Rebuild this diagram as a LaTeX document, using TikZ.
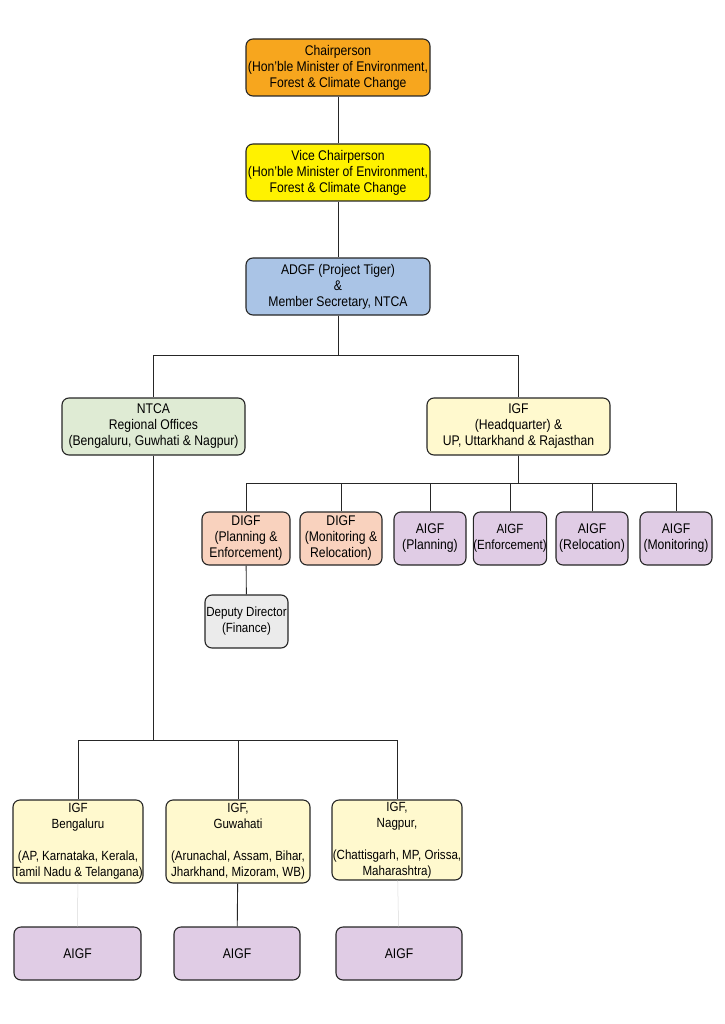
\documentclass[tikz,border=0pt]{standalone}
\usepackage{fontspec}
\setmainfont{Liberation Sans}[FakeStretch=0.87]
\usepackage{xcolor}
\usepackage{tikz}
\usetikzlibrary{positioning,calc}

\definecolor{chairorange}{RGB}{247,166,30}
\definecolor{viceyellow}{RGB}{255,242,0}
\definecolor{adgfblue}{RGB}{170,196,230}
\definecolor{rogreen}{RGB}{223,235,212}
\definecolor{igfyellow}{RGB}{255,249,206}
\definecolor{digfsalmon}{RGB}{249,210,190}
\definecolor{aigflilac}{RGB}{224,204,229}
\definecolor{ddgray}{RGB}{235,235,235}

\begin{document}
\begin{tikzpicture}[x=1pt, y=-1pt,
    box/.style={rectangle, rounded corners=7pt, draw=black!85, line width=1.1pt, align=center, inner sep=0pt, font=\fontsize{14}{16}\selectfont},
    topbox/.style={box, minimum width=184pt, minimum height=57pt},
    smallbox/.style={box, minimum width=72pt, minimum height=53pt},
    regbox/.style={box, fill=igfyellow, minimum height=83pt, font=\fontsize{13.3}{16}\selectfont},
    aigf/.style={box, fill=aigflilac},
    link/.style={line width=0.9pt, black!85},
    faint/.style={line width=0.5pt, black!15}
]
\useasboundingbox (0,0) rectangle (724,1024);

% --- TOP OF THE CHART ---
\node[topbox, fill=chairorange] (chair) at (338,67.5) {Chairperson\\(Hon'ble Minister of Environment,\\Forest \& Climate Change};
\node[topbox, fill=viceyellow] (vice) at (338,172.5) {Vice Chairperson\\(Hon'ble Minister of Environment,\\Forest \& Climate Change};
\node[topbox, fill=adgfblue] (adgf) at (338,286.5) {ADGF (Project Tiger)\\\&\\Member Secretary, NTCA};

\draw[link] (chair) -- (vice);
\draw[link] (vice) -- (adgf);

% --- SECOND LEVEL ---
\node[topbox, minimum width=183pt, fill=rogreen] (ntca) at (153.5,426.5) {NTCA\\Regional Offices\\(Bengaluru, Guwhati \& Nagpur)};
\node[topbox, minimum width=183pt, fill=igfyellow] (igfhq) at (518.5,426.5) {IGF\\(Headquarter) \&\\UP, Uttarkhand \& Rajasthan};

\draw[link] (adgf.south) -- ++(0,40) -| (ntca.north);
\draw[link] (adgf.south) -- ++(0,40) -| (igfhq.north);

% --- UNDER IGF (HQ) ---
\node[smallbox, minimum width=88pt, fill=digfsalmon] (digfpe) at (246,538.5) {DIGF\\(Planning \&\\Enforcement)};
\node[smallbox, minimum width=82pt, fill=digfsalmon] (digfmr) at (341,538.5) {DIGF\\(Monitoring \&\\Relocation)};
\node[smallbox, aigf] (aigfp) at (430,538.5) {AIGF\\(Planning)};
\node[smallbox, aigf, font=\fontsize{13.3}{16}\selectfont] (aigfe) at (510,538.5) {AIGF\\(Enforcement)};
\node[smallbox, aigf] (aigfr) at (592,538.5) {AIGF\\(Relocation)};
\node[smallbox, aigf] (aigfm) at (676,538.5) {AIGF\\(Monitoring)};

\foreach \n in {digfpe,digfmr,aigfp,aigfe,aigfr,aigfm} {
    \draw[link] (igfhq.south) -- ++(0,28) -| (\n.north);
}

\node[smallbox, minimum width=83pt, fill=ddgray, font=\fontsize{13.3}{16}\selectfont] (dd) at (246.5,621.5) {Deputy Director\\(Finance)};
\draw[link] (digfpe) -- (dd);

% --- REGIONAL OFFICES ---
\node[regbox, minimum width=130pt] (igfbg) at (78,841.5) {IGF\\Bengaluru\\[16pt](AP, Karnataka, Kerala,\\Tamil Nadu \& Telangana)};
\node[regbox, minimum width=144pt] (igfgw) at (238,841.5) {IGF,\\Guwahati\\[16pt](Arunachal, Assam, Bihar,\\Jharkhand, Mizoram, WB)};
\node[regbox, minimum width=130pt, minimum height=80pt] (igfng) at (397,840) {IGF,\\Nagpur,\\[16pt](Chattisgarh, MP, Orissa,\\Maharashtra)};

\foreach \n in {igfbg,igfgw,igfng} {
    \draw[link] (ntca.south) -- ++(0,285) -| (\n.north);
}

\node[aigf, minimum width=127pt, minimum height=53pt] (aigfbg) at (77.5,953.5) {AIGF};
\node[aigf, minimum width=126pt, minimum height=53pt] (aigfgw) at (237,953.5) {AIGF};
\node[aigf, minimum width=126pt, minimum height=53pt] (aigfng) at (399,953.5) {AIGF};

\draw[faint] (igfbg) -- (aigfbg);
\draw[link] (igfgw) -- (aigfgw);
\draw[faint] (igfng) -- (aigfng);

\end{tikzpicture}
\end{document}
